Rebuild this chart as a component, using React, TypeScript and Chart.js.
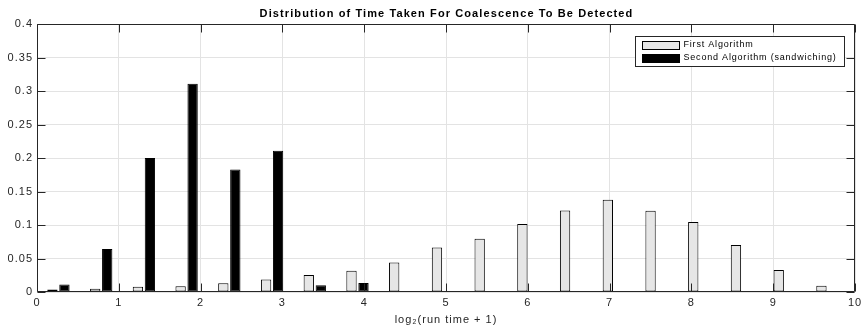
import React, { useEffect, useRef } from "react";
import { Chart, registerables } from "chart.js";

Chart.register(...registerables);

// ---- data ----
const binCenters = [
  0.262, 0.785, 1.307, 1.829, 2.351, 2.874, 3.396, 3.918, 4.44, 4.963,
  5.485, 6.007, 6.529, 7.052, 7.574, 8.096, 8.618, 9.141, 9.663,
];
const firstAlgorithm = [
  0.0039, 0.0049, 0.0079, 0.0084, 0.0129, 0.0188, 0.0254, 0.0318, 0.0442, 0.0666,
  0.0796, 0.1015, 0.1218, 0.1378, 0.1213, 0.1045, 0.0701, 0.0328, 0.0094,
];
const secondAlgorithm = [
  0.0113, 0.064, 0.2, 0.311, 0.183, 0.211, 0.0099, 0.0134, 0, 0,
  0, 0, 0, 0, 0, 0, 0, 0, 0,
];
const seriesNames = ["First Algorithm", "Second Algorithm (sandwiching)"];
const chartTitle = "Distribution of Time Taken For Coalescence To Be Detected";
const xAxisTitle = "log\u2082(run time + 1)";
const xRange = [0, 10];
const xStep = 1;
const yRange = [0, 0.4];
const yStep = 0.05;

// ---- styles ----
const FONT = "'Liberation Sans', Arial, Helvetica, sans-serif";
const AXIS = "#262626";
const GRID = "#e3e3e3";
const FIRST_FILL = "#e6e6e6";
const SECOND_FILL = "#000000";
const EDGE = "#000000";

const spacing = {
  id: "spacing",
  beforeUpdate(chart: any) {
    chart.ctx.letterSpacing = "1px";
  },
  beforeDraw(chart: any) {
    chart.ctx.letterSpacing = "1px";
  },
};

const frameAndLegend = {
  id: "frameAndLegend",
  afterDraw(chart: any) {
    const { ctx, chartArea, scales } = chart;
    const L = Math.round(chartArea.left) + 0.5;
    const R = Math.round(chartArea.right) - 0.5;
    const T = Math.round(chartArea.top) + 0.5;
    const B = Math.round(chartArea.bottom) - 0.5;
    const tl = 8;
    ctx.save();
    ctx.strokeStyle = AXIS;
    ctx.lineWidth = 1;
    ctx.beginPath();
    ctx.rect(L, T, R - L, B - T);
    scales.x.ticks.forEach((t: any) => {
      const px = Math.round(scales.x.getPixelForValue(t.value)) + 0.5;
      ctx.moveTo(px, B);
      ctx.lineTo(px, B - tl);
      ctx.moveTo(px, T);
      ctx.lineTo(px, T + tl);
    });
    scales.y.ticks.forEach((t: any) => {
      const py = Math.round(scales.y.getPixelForValue(t.value)) + 0.5;
      ctx.moveTo(L, py);
      ctx.lineTo(L + tl, py);
      ctx.moveTo(R, py);
      ctx.lineTo(R - tl, py);
    });
    ctx.stroke();

    // title, centred over the plot area
    ctx.letterSpacing = "1.1px";
    ctx.font = `bold 11px ${FONT}`;
    ctx.fillStyle = "#000000";
    ctx.textAlign = "center";
    ctx.textBaseline = "middle";
    ctx.fillText(chartTitle, (chartArea.left + chartArea.right) / 2 + 0.5, 13.5);

    // legend box
    const lw = 209;
    const lh = 30;
    const lx = Math.round(chartArea.right - 11 - lw) + 0.5;
    const ly = Math.round(chartArea.top + 12) + 0.5;
    ctx.fillStyle = "#ffffff";
    ctx.fillRect(lx, ly, lw, lh);
    ctx.strokeRect(lx, ly, lw, lh);
    const fills = [FIRST_FILL, SECOND_FILL];
    ctx.letterSpacing = "0.8px";
    ctx.font = `9px ${FONT}`;
    ctx.textBaseline = "middle";
    ctx.textAlign = "left";
    seriesNames.forEach((name, i) => {
      const cy = ly + 8 + i * 13;
      const sy = Math.round(cy - 4) + 0.5;
      ctx.fillStyle = fills[i];
      ctx.fillRect(lx + 7, sy, 37, 8);
      ctx.strokeStyle = EDGE;
      ctx.strokeRect(lx + 7, sy, 37, 8);
      ctx.fillStyle = "#000000";
      ctx.fillText(name, lx + 48, cy);
    });
    ctx.restore();
  },
};

export default function App() {
  const canvasRef = useRef<HTMLCanvasElement | null>(null);

  useEffect(() => {
    const canvas = canvasRef.current;
    if (!canvas) return;
    const tickFont = { family: FONT, size: 11 };
    const chart = new Chart(canvas, {
      type: "bar",
      data: {
        datasets: [
          {
            label: seriesNames[0],
            data: binCenters.map((x, i) => ({ x, y: firstAlgorithm[i] })),
            backgroundColor: FIRST_FILL,
            borderColor: EDGE,
            borderWidth: 1,
            borderSkipped: false,
            categoryPercentage: 0.562,
            barPercentage: 0.86,
          },
          {
            label: seriesNames[1],
            data: binCenters.map((x, i) => ({ x, y: secondAlgorithm[i] })),
            backgroundColor: SECOND_FILL,
            borderColor: EDGE,
            borderWidth: 1,
            borderSkipped: false,
            categoryPercentage: 0.562,
            barPercentage: 0.86,
          },
        ],
      },
      options: {
        animation: false,
        responsive: false,
        layout: { padding: { left: 0, right: 7, top: 24, bottom: 0 } },
        plugins: {
          legend: { display: false },
          tooltip: { enabled: false },
          title: { display: false },
        },
        scales: {
          x: {
            type: "linear",
            min: xRange[0],
            max: xRange[1],
            offset: false,
            grid: { offset: false, color: GRID, drawTicks: false },
            border: { display: false },
            ticks: {
              stepSize: xStep,
              padding: 4,
              color: AXIS,
              font: tickFont,
              maxRotation: 0,
              autoSkip: false,
            },
            title: {
              display: true,
              text: xAxisTitle,
              color: AXIS,
              font: tickFont,
              padding: { top: 0, bottom: 1 },
            },
            afterFit: (s: any) => {
              s.height = 36;
              s.paddingLeft = 0;
              s.paddingRight = 0;
            },
          },
          y: {
            min: yRange[0],
            max: yRange[1],
            grid: { color: GRID, drawTicks: false },
            border: { display: false },
            ticks: {
              stepSize: yStep,
              padding: 4,
              color: AXIS,
              font: tickFont,
              callback: (v: any) => String(Number(Number(v).toFixed(2))),
            },
            afterFit: (s: any) => {
              s.width = 37;
              s.paddingTop = 0;
              s.paddingBottom = 0;
            },
          },
        },
      },
      plugins: [spacing, frameAndLegend],
    } as any);
    return () => chart.destroy();
  }, []);

  return (
    <div style={{ position: "fixed", left: 0, top: 0, width: 862, height: 328, background: "#fff" }}>
      <canvas ref={canvasRef} width={862} height={328} style={{ display: "block" }} />
    </div>
  );
}
